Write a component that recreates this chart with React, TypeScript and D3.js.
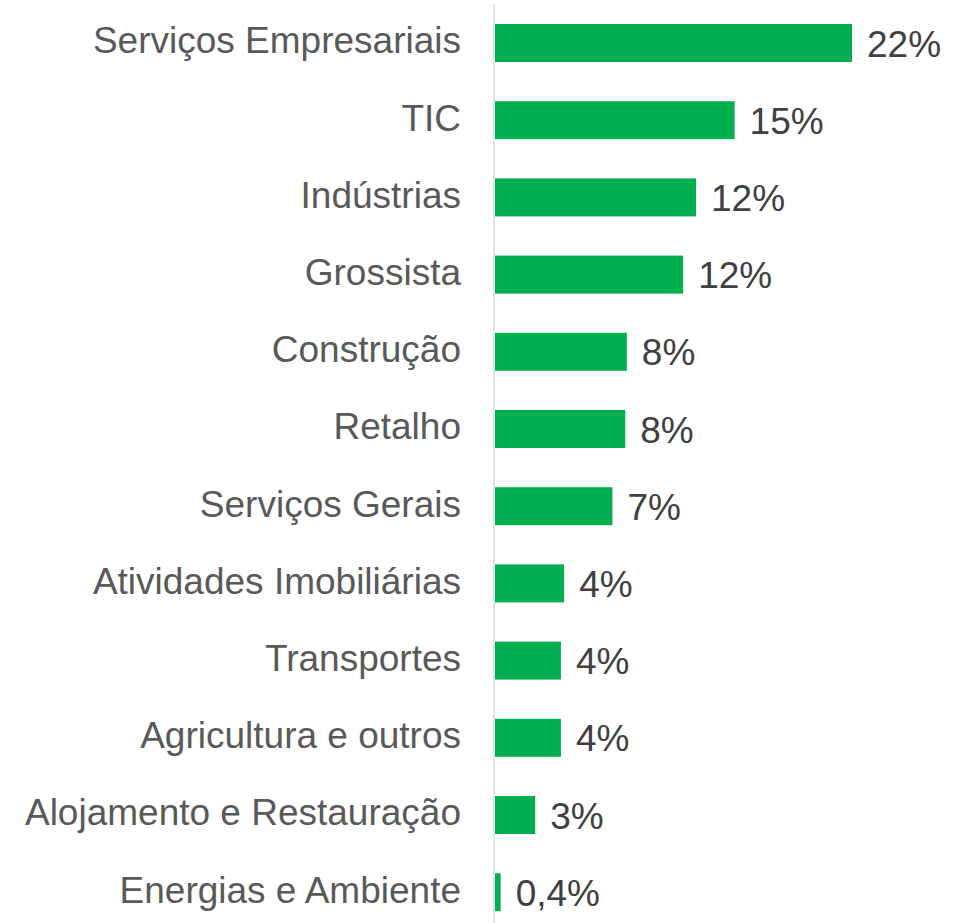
import React from "react";
import * as d3 from "d3";

const categories = [
  "Serviços Empresariais",
  "TIC",
  "Indústrias",
  "Grossista",
  "Construção",
  "Retalho",
  "Serviços Gerais",
  "Atividades Imobiliárias",
  "Transportes",
  "Agricultura e outros",
  "Alojamento e Restauração",
  "Energias e Ambiente",
];
const values = [22.2, 14.9, 12.5, 11.7, 8.2, 8.1, 7.3, 4.3, 4.1, 4.1, 2.5, 0.35];
const valueLabels = ["22%", "15%", "12%", "12%", "8%", "8%", "7%", "4%", "4%", "4%", "3%", "0,4%"];

const W = 969;
const H = 923;
const FONT = "'Liberation Sans', Arial, Helvetica, sans-serif";

export default function App() {
  const x = d3.scaleLinear().domain([0, 22.2]).range([495, 852]);
  const y = d3
    .scaleBand<string>()
    .domain(categories)
    .range([4.4, 930.8])
    .paddingInner(0.508)
    .paddingOuter(0.254);
  const bw = y.bandwidth();

  return (
    <svg
      width={W}
      height={H}
      style={{ position: "absolute", left: 0, top: 0, background: "#fff" }}
    >
      <line x1={494} x2={494} y1={4} y2={H} stroke="#d9d9d9" strokeWidth={1.5} />
      {categories.map((c, i) => {
        const yy = y(c)!;
        const cy = yy + bw / 2;
        return (
          <g key={c}>
            <rect x={x(0)} y={yy} width={x(values[i]) - x(0)} height={bw} fill="#00b050" />
            <text
              x={461}
              y={cy + 10.3}
              textAnchor="end"
              fontFamily={FONT}
              fontSize={37}
              fill="#595959"
            >
              {c}
            </text>
            <text
              x={x(values[i]) + 15}
              y={cy + 13.5}
              fontFamily={FONT}
              fontSize={37}
              fill="#404040"
            >
              {valueLabels[i]}
            </text>
          </g>
        );
      })}
    </svg>
  );
}
